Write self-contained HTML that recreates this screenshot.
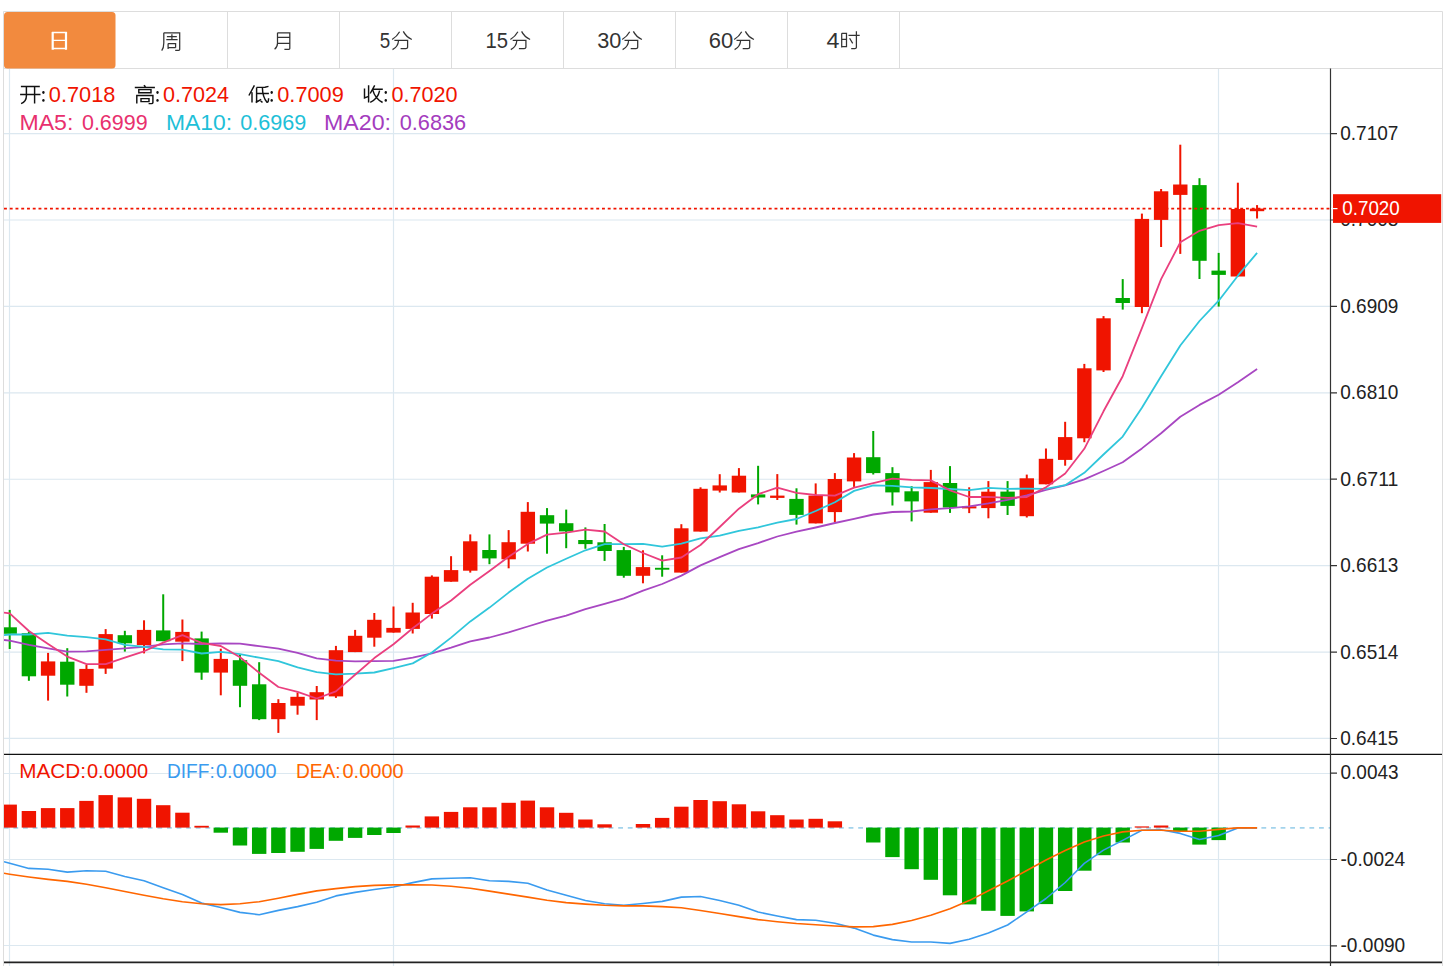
<!DOCTYPE html><html><head><meta charset="utf-8"><style>html,body{margin:0;padding:0;background:#fff;overflow:hidden}svg{display:block}text{font-family:"Liberation Sans",sans-serif}</style></head><body>
<svg width="1450" height="966" viewBox="0 0 1450 966">
<rect x="0" y="0" width="1450" height="966" fill="#fff"/>
<path d="M9.5 68.5V966 M393.5 68.5V966 M1218.5 68.5V966 M4 133.60H1330.5 M4 220.01H1330.5 M4 306.42H1330.5 M4 392.83H1330.5 M4 479.24H1330.5 M4 565.65H1330.5 M4 652.06H1330.5 M4 738.47H1330.5 M4 773.5H1330.5 M4 859.5H1330.5 M4 945.5H1330.5" stroke="#DCE8F0" stroke-width="1.2" fill="none"/>
<path d="M3.5 966V11.5H1442.5V966" stroke="#DDDDDD" stroke-width="1" fill="none"/>
<path d="M3.5 68.5H1442.5" stroke="#DDDDDD" stroke-width="1" fill="none"/>
<path d="M227.5 12V68 M339.5 12V68 M451.5 12V68 M563.5 12V68 M675.5 12V68 M787.5 12V68 M899.5 12V68" stroke="#DDDDDD" stroke-width="1" fill="none"/>
<rect x="4" y="12" width="111.5" height="56.5" rx="3.5" ry="3.5" fill="#F28A3E"/>
<path d="M52.7 32V49.8 M66.0 32V49.8" stroke="#fff" stroke-width="2.2" fill="none"/>
<path d="M52 32.5H66.8 M52.7 40.4H66 M52.7 48.5H66" stroke="#fff" stroke-width="1.4" fill="none"/>
<path transform="translate(161.5,32.4)" d="M2.3 0.4H18.2V17.2Q18.2 18 17.2 18H13.7 M2.3 0.4V10.5Q2.3 15.5 0.2 18.2 M5.4 4.1H15.3 M10.4 1.9V7.1 M4.8 7.1H16.1 M6.6 11.1V16.5 M6.6 11.1H14.1V15.3 M6.6 15.3H14.1" stroke="#333333" stroke-width="1.25" fill="none" stroke-linecap="butt"/>
<path transform="translate(274.4,32.4)" d="M3.1 0.4H15.4V16.2Q15.4 17 14.4 17H10 M3.1 0.4V10.8Q3.1 14.5 0.2 16.8 M3.1 4.9H15.4 M3.1 11H15.4" stroke="#333333" stroke-width="1.25" fill="none" stroke-linecap="butt"/>
<text x="379.75" y="47.55" font-size="22.86" fill="#333" textLength="10.47" lengthAdjust="spacingAndGlyphs">5</text>
<path transform="translate(391.9,31.2)" d="M7.7 0.6Q5.2 5.2 0.2 8.3 M11.4 0.2Q14 5.5 19.9 8.3 M2.5 9.2H15.7V16.1Q15.5 17.3 14 17.3H8.7 M6.6 9.5Q6.2 15.5 0.6 18.4" stroke="#333333" stroke-width="1.25" fill="none" stroke-linecap="butt"/>
<text x="485.50" y="47.55" font-size="22.57" fill="#333" textLength="22.54" lengthAdjust="spacingAndGlyphs">15</text>
<path transform="translate(510.2,31.2)" d="M7.7 0.6Q5.2 5.2 0.2 8.3 M11.4 0.2Q14 5.5 19.9 8.3 M2.5 9.2H15.7V16.1Q15.5 17.3 14 17.3H8.7 M6.6 9.5Q6.2 15.5 0.6 18.4" stroke="#333333" stroke-width="1.25" fill="none" stroke-linecap="butt"/>
<text x="597.25" y="47.55" font-size="22.46" fill="#333" textLength="24.13" lengthAdjust="spacingAndGlyphs">30</text>
<path transform="translate(622.0,31.2)" d="M7.7 0.6Q5.2 5.2 0.2 8.3 M11.4 0.2Q14 5.5 19.9 8.3 M2.5 9.2H15.7V16.1Q15.5 17.3 14 17.3H8.7 M6.6 9.5Q6.2 15.5 0.6 18.4" stroke="#333333" stroke-width="1.25" fill="none" stroke-linecap="butt"/>
<text x="708.75" y="47.55" font-size="22.46" fill="#333" textLength="24.44" lengthAdjust="spacingAndGlyphs">60</text>
<path transform="translate(734.0,31.2)" d="M7.7 0.6Q5.2 5.2 0.2 8.3 M11.4 0.2Q14 5.5 19.9 8.3 M2.5 9.2H15.7V16.1Q15.5 17.3 14 17.3H8.7 M6.6 9.5Q6.2 15.5 0.6 18.4" stroke="#333333" stroke-width="1.25" fill="none" stroke-linecap="butt"/>
<text x="826.50" y="47.70" font-size="22.84" fill="#333" textLength="12.93" lengthAdjust="spacingAndGlyphs">4</text>
<path transform="translate(841.3,31.2)" d="M0.4 2.1H5.2V16.1 M0.4 2.1V16.3 M0.4 8.2H5.2 M0.4 15.3H5.2 M7.2 4.2H18.4 M15.1 0V16.2Q15 17.4 13.5 17.4H9.9 M8.3 7L11.4 12.2" stroke="#333333" stroke-width="1.25" fill="none" stroke-linecap="butt"/>
<path transform="translate(20,85)" d="M0.9 1.4H19.8 M0.1 9.5H20.5 M6.4 1.4V11Q6.4 16.5 1.1 18.6 M14.6 1.4V18.5" stroke="#111111" stroke-width="1.45" fill="none" stroke-linecap="butt"/>
<path transform="translate(134.5,85)" d="M9.4 0.2L11 1.8 M0.3 2.5H20.4 M4.3 4.6H16.5V7.8H4.3Z M2.3 18.5V10.5H18.4V17.6Q18.3 18.6 17 18.6H14.1 M6.5 13.6H14.5V16.6H6.5Z" stroke="#111111" stroke-width="1.45" fill="none" stroke-linecap="butt"/>
<path transform="translate(248.5,85)" d="M5.9 0.4L0.4 10.5 M3.5 7.2V17.6 M8.1 2.4L16.5 2.2L20 1.4 M8.1 2.4V17.3 M8.1 8.5H20.4 M13.9 2.5Q14 12 18.5 17.3Q20 17.5 20.1 13.3 M7.2 17.5L12.7 14.3 M12.1 16L14 17.4" stroke="#111111" stroke-width="1.45" fill="none" stroke-linecap="butt"/>
<path transform="translate(362,85)" d="M2.5 3.4V13L6.6 11.4 M6.6 0.2V17.5 M12.7 0.4L8.2 8.5 M11.1 4.3H20.8 M17.6 5.7Q16 14 8.2 17.3 M10.8 5.1Q13 13.5 20.6 17.5" stroke="#111111" stroke-width="1.45" fill="none" stroke-linecap="butt"/>
<ellipse cx="43.4" cy="92.5" rx="1.2" ry="1.45" fill="#111111"/><ellipse cx="43.4" cy="100.4" rx="1.2" ry="1.45" fill="#111111"/><ellipse cx="157.5" cy="92.5" rx="1.2" ry="1.45" fill="#111111"/><ellipse cx="157.5" cy="100.4" rx="1.2" ry="1.45" fill="#111111"/><ellipse cx="271.7" cy="92.5" rx="1.2" ry="1.45" fill="#111111"/><ellipse cx="271.7" cy="100.4" rx="1.2" ry="1.45" fill="#111111"/><ellipse cx="385.8" cy="92.5" rx="1.2" ry="1.45" fill="#111111"/><ellipse cx="385.8" cy="100.4" rx="1.2" ry="1.45" fill="#111111"/>
<text x="48.80" y="101.65" font-size="22.46" fill="#F01400" textLength="66.54" lengthAdjust="spacingAndGlyphs">0.7018</text>
<text x="163.00" y="101.65" font-size="22.46" fill="#F01400" textLength="66.03" lengthAdjust="spacingAndGlyphs">0.7024</text>
<text x="277.25" y="101.65" font-size="22.46" fill="#F01400" textLength="66.52" lengthAdjust="spacingAndGlyphs">0.7009</text>
<text x="391.50" y="101.65" font-size="22.46" fill="#F01400" textLength="66.12" lengthAdjust="spacingAndGlyphs">0.7020</text>
<text x="19.50" y="130.45" font-size="22.57" fill="#E8306E" textLength="53.86" lengthAdjust="spacingAndGlyphs">MA5:</text>
<text x="82.00" y="130.45" font-size="22.18" fill="#E8306E" textLength="65.56" lengthAdjust="spacingAndGlyphs">0.6999</text>
<text x="166.00" y="130.45" font-size="22.18" fill="#1EC0D8" textLength="66.12" lengthAdjust="spacingAndGlyphs">MA10:</text>
<text x="240.25" y="130.45" font-size="22.18" fill="#1EC0D8" textLength="66.08" lengthAdjust="spacingAndGlyphs">0.6969</text>
<text x="324.00" y="130.45" font-size="22.18" fill="#A43CBE" textLength="67.02" lengthAdjust="spacingAndGlyphs">MA20:</text>
<text x="399.75" y="130.45" font-size="22.18" fill="#A43CBE" textLength="66.44" lengthAdjust="spacingAndGlyphs">0.6836</text>
<defs><clipPath id="cm"><rect x="4" y="69" width="1326.5" height="685"/></clipPath><clipPath id="cd"><rect x="4" y="755" width="1326.5" height="207"/></clipPath></defs>
<g clip-path="url(#cm)">
<rect x="8.70" y="609.9" width="2" height="39.1" fill="#00A800"/>
<rect x="2.50" y="627.3" width="14.4" height="6.5" fill="#00A800"/>
<rect x="27.89" y="631.6" width="2" height="49.2" fill="#00A800"/>
<rect x="21.69" y="633.2" width="14.4" height="43.1" fill="#00A800"/>
<rect x="47.08" y="652.9" width="2" height="47.7" fill="#F01400"/>
<rect x="40.88" y="661.4" width="14.4" height="14.3" fill="#F01400"/>
<rect x="66.27" y="648.2" width="2" height="48.3" fill="#00A800"/>
<rect x="60.07" y="661.7" width="14.4" height="23.0" fill="#00A800"/>
<rect x="85.46" y="665.0" width="2" height="27.8" fill="#F01400"/>
<rect x="79.26" y="668.9" width="14.4" height="16.9" fill="#F01400"/>
<rect x="104.65" y="629.1" width="2" height="44.8" fill="#F01400"/>
<rect x="98.45" y="634.1" width="14.4" height="34.5" fill="#F01400"/>
<rect x="123.84" y="630.8" width="2" height="20.8" fill="#00A800"/>
<rect x="117.64" y="635.2" width="14.4" height="8.1" fill="#00A800"/>
<rect x="143.03" y="620.3" width="2" height="33.1" fill="#F01400"/>
<rect x="136.83" y="629.9" width="14.4" height="15.2" fill="#F01400"/>
<rect x="162.22" y="594.3" width="2" height="46.9" fill="#00A800"/>
<rect x="156.02" y="630.4" width="14.4" height="10.8" fill="#00A800"/>
<rect x="181.41" y="619.5" width="2" height="41.6" fill="#F01400"/>
<rect x="175.21" y="631.9" width="14.4" height="9.8" fill="#F01400"/>
<rect x="200.60" y="631.6" width="2" height="48.2" fill="#00A800"/>
<rect x="194.40" y="638.4" width="14.4" height="34.2" fill="#00A800"/>
<rect x="219.79" y="648.7" width="2" height="46.6" fill="#F01400"/>
<rect x="213.59" y="658.9" width="14.4" height="13.7" fill="#F01400"/>
<rect x="238.98" y="654.4" width="2" height="52.8" fill="#00A800"/>
<rect x="232.78" y="660.2" width="14.4" height="25.6" fill="#00A800"/>
<rect x="258.17" y="662.2" width="2" height="57.9" fill="#00A800"/>
<rect x="251.97" y="684.3" width="14.4" height="34.9" fill="#00A800"/>
<rect x="277.36" y="699.2" width="2" height="33.7" fill="#F01400"/>
<rect x="271.16" y="703.0" width="14.4" height="16.2" fill="#F01400"/>
<rect x="296.55" y="692.5" width="2" height="22.2" fill="#F01400"/>
<rect x="290.35" y="696.8" width="14.4" height="8.9" fill="#F01400"/>
<rect x="315.74" y="686.0" width="2" height="34.1" fill="#F01400"/>
<rect x="309.54" y="692.2" width="14.4" height="7.3" fill="#F01400"/>
<rect x="334.93" y="645.9" width="2" height="52.0" fill="#F01400"/>
<rect x="328.73" y="650.2" width="14.4" height="46.2" fill="#F01400"/>
<rect x="354.12" y="629.9" width="2" height="22.2" fill="#F01400"/>
<rect x="347.92" y="635.8" width="14.4" height="16.3" fill="#F01400"/>
<rect x="373.31" y="613.0" width="2" height="33.7" fill="#F01400"/>
<rect x="367.11" y="619.8" width="14.4" height="17.9" fill="#F01400"/>
<rect x="392.50" y="606.5" width="2" height="26.1" fill="#F01400"/>
<rect x="386.30" y="627.9" width="14.4" height="4.7" fill="#F01400"/>
<rect x="411.69" y="602.8" width="2" height="30.7" fill="#F01400"/>
<rect x="405.49" y="612.5" width="14.4" height="16.4" fill="#F01400"/>
<rect x="430.88" y="575.4" width="2" height="43.2" fill="#F01400"/>
<rect x="424.68" y="576.7" width="14.4" height="37.3" fill="#F01400"/>
<rect x="450.07" y="556.2" width="2" height="25.5" fill="#F01400"/>
<rect x="443.87" y="570.1" width="14.4" height="11.6" fill="#F01400"/>
<rect x="469.26" y="534.4" width="2" height="38.2" fill="#F01400"/>
<rect x="463.06" y="541.3" width="14.4" height="29.4" fill="#F01400"/>
<rect x="488.45" y="534.4" width="2" height="29.8" fill="#00A800"/>
<rect x="482.25" y="550.0" width="14.4" height="8.4" fill="#00A800"/>
<rect x="507.64" y="530.1" width="2" height="38.2" fill="#F01400"/>
<rect x="501.44" y="542.2" width="14.4" height="17.1" fill="#F01400"/>
<rect x="526.83" y="502.1" width="2" height="49.4" fill="#F01400"/>
<rect x="520.63" y="511.8" width="14.4" height="31.9" fill="#F01400"/>
<rect x="546.02" y="508.1" width="2" height="45.6" fill="#00A800"/>
<rect x="539.82" y="515.2" width="14.4" height="8.4" fill="#00A800"/>
<rect x="565.21" y="509.6" width="2" height="38.6" fill="#00A800"/>
<rect x="559.01" y="523.2" width="14.4" height="8.2" fill="#00A800"/>
<rect x="584.40" y="527.4" width="2" height="21.4" fill="#00A800"/>
<rect x="578.20" y="540.0" width="14.4" height="4.1" fill="#00A800"/>
<rect x="603.59" y="524.0" width="2" height="36.9" fill="#00A800"/>
<rect x="597.39" y="542.3" width="14.4" height="8.7" fill="#00A800"/>
<rect x="622.78" y="546.9" width="2" height="30.8" fill="#00A800"/>
<rect x="616.58" y="550.1" width="14.4" height="25.7" fill="#00A800"/>
<rect x="641.97" y="550.3" width="2" height="33.0" fill="#F01400"/>
<rect x="635.77" y="567.1" width="14.4" height="8.7" fill="#F01400"/>
<rect x="661.16" y="555.3" width="2" height="21.4" fill="#00A800"/>
<rect x="654.96" y="567.8" width="14.4" height="1.9" fill="#00A800"/>
<rect x="680.35" y="524.2" width="2" height="48.4" fill="#F01400"/>
<rect x="674.15" y="528.3" width="14.4" height="44.3" fill="#F01400"/>
<rect x="699.54" y="487.3" width="2" height="44.3" fill="#F01400"/>
<rect x="693.34" y="488.8" width="14.4" height="42.8" fill="#F01400"/>
<rect x="718.73" y="474.2" width="2" height="18.3" fill="#F01400"/>
<rect x="712.53" y="485.4" width="14.4" height="5.2" fill="#F01400"/>
<rect x="737.92" y="468.1" width="2" height="24.4" fill="#F01400"/>
<rect x="731.72" y="475.7" width="14.4" height="16.8" fill="#F01400"/>
<rect x="757.11" y="465.8" width="2" height="38.6" fill="#00A800"/>
<rect x="750.91" y="494.4" width="14.4" height="3.1" fill="#00A800"/>
<rect x="776.30" y="474.1" width="2" height="25.9" fill="#F01400"/>
<rect x="770.10" y="495.6" width="14.4" height="2.3" fill="#F01400"/>
<rect x="795.49" y="488.3" width="2" height="36.3" fill="#00A800"/>
<rect x="789.29" y="498.9" width="14.4" height="16.0" fill="#00A800"/>
<rect x="814.68" y="483.4" width="2" height="40.0" fill="#F01400"/>
<rect x="808.48" y="495.6" width="14.4" height="27.8" fill="#F01400"/>
<rect x="833.87" y="473.1" width="2" height="49.0" fill="#F01400"/>
<rect x="827.67" y="479.0" width="14.4" height="33.1" fill="#F01400"/>
<rect x="853.06" y="453.1" width="2" height="33.8" fill="#F01400"/>
<rect x="846.86" y="457.5" width="14.4" height="23.9" fill="#F01400"/>
<rect x="872.25" y="431.0" width="2" height="43.5" fill="#00A800"/>
<rect x="866.05" y="457.2" width="14.4" height="15.9" fill="#00A800"/>
<rect x="891.44" y="467.2" width="2" height="38.3" fill="#00A800"/>
<rect x="885.24" y="473.1" width="14.4" height="19.3" fill="#00A800"/>
<rect x="910.63" y="486.2" width="2" height="35.2" fill="#00A800"/>
<rect x="904.43" y="491.3" width="14.4" height="10.1" fill="#00A800"/>
<rect x="929.82" y="469.9" width="2" height="42.8" fill="#F01400"/>
<rect x="923.62" y="482.1" width="14.4" height="30.6" fill="#F01400"/>
<rect x="949.01" y="466.1" width="2" height="46.8" fill="#00A800"/>
<rect x="942.81" y="483.0" width="14.4" height="24.5" fill="#00A800"/>
<rect x="968.20" y="487.3" width="2" height="25.8" fill="#F01400"/>
<rect x="962.00" y="506.3" width="14.4" height="2.1" fill="#F01400"/>
<rect x="987.39" y="481.1" width="2" height="37.2" fill="#F01400"/>
<rect x="981.19" y="491.7" width="14.4" height="16.4" fill="#F01400"/>
<rect x="1006.58" y="481.1" width="2" height="33.9" fill="#00A800"/>
<rect x="1000.38" y="491.6" width="14.4" height="14.3" fill="#00A800"/>
<rect x="1025.77" y="474.6" width="2" height="42.9" fill="#F01400"/>
<rect x="1019.57" y="478.3" width="14.4" height="37.9" fill="#F01400"/>
<rect x="1044.96" y="448.5" width="2" height="35.8" fill="#F01400"/>
<rect x="1038.76" y="458.8" width="14.4" height="25.5" fill="#F01400"/>
<rect x="1064.15" y="421.8" width="2" height="43.9" fill="#F01400"/>
<rect x="1057.95" y="437.1" width="14.4" height="22.8" fill="#F01400"/>
<rect x="1083.34" y="363.9" width="2" height="78.3" fill="#F01400"/>
<rect x="1077.14" y="368.3" width="14.4" height="70.0" fill="#F01400"/>
<rect x="1102.53" y="316.1" width="2" height="55.9" fill="#F01400"/>
<rect x="1096.33" y="318.3" width="14.4" height="52.1" fill="#F01400"/>
<rect x="1121.72" y="279.1" width="2" height="30.5" fill="#00A800"/>
<rect x="1115.52" y="298.0" width="14.4" height="5.0" fill="#00A800"/>
<rect x="1140.91" y="213.6" width="2" height="99.6" fill="#F01400"/>
<rect x="1134.71" y="218.9" width="14.4" height="88.1" fill="#F01400"/>
<rect x="1160.10" y="189.0" width="2" height="58.0" fill="#F01400"/>
<rect x="1153.90" y="191.3" width="14.4" height="28.6" fill="#F01400"/>
<rect x="1179.29" y="144.7" width="2" height="109.2" fill="#F01400"/>
<rect x="1173.09" y="184.5" width="14.4" height="10.4" fill="#F01400"/>
<rect x="1198.48" y="178.2" width="2" height="100.8" fill="#00A800"/>
<rect x="1192.28" y="185.1" width="14.4" height="75.7" fill="#00A800"/>
<rect x="1217.67" y="252.9" width="2" height="53.7" fill="#00A800"/>
<rect x="1211.47" y="270.6" width="14.4" height="4.3" fill="#00A800"/>
<rect x="1236.86" y="182.7" width="2" height="93.8" fill="#F01400"/>
<rect x="1230.66" y="209.0" width="14.4" height="67.5" fill="#F01400"/>
<rect x="1256.05" y="205.1" width="2" height="13.4" fill="#F01400"/>
<rect x="1249.85" y="208.6" width="14.4" height="2.6" fill="#F01400"/>
<path d="M4.0 640.0 L9.7 640.7 L28.9 644.8 L48.1 648.3 L67.3 651.7 L86.5 651.3 L105.7 649.9 L124.8 648.3 L144.0 646.9 L163.2 644.4 L182.4 643.4 L201.6 644.0 L220.8 643.3 L240.0 643.6 L259.2 646.2 L278.4 648.7 L297.6 652.9 L316.7 658.3 L335.9 660.7 L355.1 661.4 L374.3 661.1 L393.5 660.8 L412.7 657.6 L431.9 653.4 L451.1 647.6 L470.3 641.3 L489.5 637.5 L508.6 632.4 L527.8 626.5 L547.0 620.6 L566.2 615.6 L585.4 609.2 L604.6 603.8 L623.8 598.3 L643.0 590.7 L662.2 584.0 L681.4 575.6 L700.5 565.4 L719.7 557.2 L738.9 549.2 L758.1 543.1 L777.3 536.5 L796.5 531.6 L815.7 527.5 L834.9 523.0 L854.1 518.8 L873.3 514.5 L892.4 512.0 L911.6 511.5 L930.8 509.4 L950.0 508.2 L969.2 506.3 L988.4 503.4 L1007.6 499.9 L1026.8 495.4 L1046.0 489.9 L1065.2 485.3 L1084.3 479.3 L1103.5 471.0 L1122.7 462.3 L1141.9 448.4 L1161.1 433.2 L1180.3 416.7 L1199.5 404.9 L1218.7 394.7 L1237.9 382.3 L1257.1 369.1" stroke="#A847C2" stroke-width="1.8" fill="none" stroke-linejoin="round"/>
<path d="M4.0 635.2 L9.7 634.5 L28.9 634.5 L48.1 632.8 L67.3 635.6 L86.5 637.2 L105.7 639.3 L124.8 644.8 L144.0 646.9 L163.2 649.4 L182.4 649.6 L201.6 653.5 L220.8 651.8 L240.0 654.2 L259.2 657.7 L278.4 661.1 L297.6 667.4 L316.7 672.2 L335.9 674.3 L355.1 673.7 L374.3 672.5 L393.5 668.1 L412.7 663.4 L431.9 652.5 L451.1 637.6 L470.3 621.4 L489.5 607.6 L508.6 592.6 L527.8 578.8 L547.0 567.5 L566.2 558.7 L585.4 550.3 L604.6 544.2 L623.8 544.1 L643.0 543.8 L662.2 546.6 L681.4 543.6 L700.5 538.3 L719.7 535.6 L738.9 530.8 L758.1 527.4 L777.3 522.6 L796.5 519.0 L815.7 511.0 L834.9 502.2 L854.1 490.9 L873.3 485.4 L892.4 485.8 L911.6 487.4 L930.8 488.0 L950.0 489.0 L969.2 490.1 L988.4 487.8 L1007.6 488.8 L1026.8 488.7 L1046.0 488.9 L1065.2 485.2 L1084.3 472.8 L1103.5 454.5 L1122.7 436.6 L1141.9 407.8 L1161.1 376.3 L1180.3 345.5 L1199.5 321.0 L1218.7 300.7 L1237.9 275.7 L1257.1 252.9" stroke="#30C6DB" stroke-width="1.8" fill="none" stroke-linejoin="round"/>
<path d="M4.0 612.7 L9.7 613.4 L28.9 631.0 L48.1 644.1 L67.3 656.6 L86.5 664.1 L105.7 664.2 L124.8 657.6 L144.0 651.3 L163.2 642.6 L182.4 635.2 L201.6 642.9 L220.8 646.0 L240.0 657.2 L259.2 672.8 L278.4 687.0 L297.6 691.8 L316.7 698.5 L335.9 691.4 L355.1 674.7 L374.3 658.1 L393.5 644.3 L412.7 628.3 L431.9 613.6 L451.1 600.5 L470.3 584.8 L489.5 570.9 L508.6 556.8 L527.8 543.9 L547.0 534.6 L566.2 532.6 L585.4 529.7 L604.6 531.5 L623.8 544.3 L643.0 553.0 L662.2 560.6 L681.4 557.5 L700.5 545.0 L719.7 527.0 L738.9 508.7 L758.1 494.2 L777.3 487.7 L796.5 492.9 L815.7 495.0 L834.9 495.6 L854.1 487.6 L873.3 483.1 L892.4 478.6 L911.6 479.8 L930.8 480.4 L950.0 490.4 L969.2 497.0 L988.4 496.9 L1007.6 497.8 L1026.8 497.0 L1046.0 487.3 L1065.2 473.5 L1084.3 448.8 L1103.5 411.3 L1122.7 376.2 L1141.9 328.2 L1161.1 279.1 L1180.3 242.3 L1199.5 230.8 L1218.7 225.2 L1237.9 223.2 L1257.1 226.7" stroke="#EA3F7E" stroke-width="1.8" fill="none" stroke-linejoin="round"/>
</g>
<path d="M4 208.6H1330.5" stroke="#F01400" stroke-width="1.6" stroke-dasharray="2.9 2.85" fill="none"/>
<g clip-path="url(#cd)">
<path d="M3.8 827.9H1330.5" stroke="#A3D3EC" stroke-width="1.6" stroke-dasharray="4.8 4.8" fill="none"/>
<rect x="2.50" y="804.6" width="14.4" height="23.0" fill="#F01400"/>
<rect x="21.69" y="811.0" width="14.4" height="16.6" fill="#F01400"/>
<rect x="40.88" y="808.1" width="14.4" height="19.5" fill="#F01400"/>
<rect x="60.07" y="808.1" width="14.4" height="19.5" fill="#F01400"/>
<rect x="79.26" y="800.9" width="14.4" height="26.7" fill="#F01400"/>
<rect x="98.45" y="795.1" width="14.4" height="32.5" fill="#F01400"/>
<rect x="117.64" y="797.4" width="14.4" height="30.2" fill="#F01400"/>
<rect x="136.83" y="798.8" width="14.4" height="28.8" fill="#F01400"/>
<rect x="156.02" y="805.2" width="14.4" height="22.4" fill="#F01400"/>
<rect x="175.21" y="812.7" width="14.4" height="14.9" fill="#F01400"/>
<rect x="194.40" y="825.8" width="14.4" height="1.8" fill="#F01400"/>
<rect x="213.59" y="827.6" width="14.4" height="5.1" fill="#00A800"/>
<rect x="232.78" y="827.6" width="14.4" height="17.9" fill="#00A800"/>
<rect x="251.97" y="827.6" width="14.4" height="26.3" fill="#00A800"/>
<rect x="271.16" y="827.6" width="14.4" height="25.4" fill="#00A800"/>
<rect x="290.35" y="827.6" width="14.4" height="24.2" fill="#00A800"/>
<rect x="309.54" y="827.6" width="14.4" height="21.3" fill="#00A800"/>
<rect x="328.73" y="827.6" width="14.4" height="13.2" fill="#00A800"/>
<rect x="347.92" y="827.6" width="14.4" height="10.3" fill="#00A800"/>
<rect x="367.11" y="827.6" width="14.4" height="7.4" fill="#00A800"/>
<rect x="386.30" y="827.6" width="14.4" height="5.4" fill="#00A800"/>
<rect x="405.49" y="825.5" width="14.4" height="2.1" fill="#F01400"/>
<rect x="424.68" y="816.4" width="14.4" height="11.2" fill="#F01400"/>
<rect x="443.87" y="811.9" width="14.4" height="15.7" fill="#F01400"/>
<rect x="463.06" y="807.3" width="14.4" height="20.3" fill="#F01400"/>
<rect x="482.25" y="807.3" width="14.4" height="20.3" fill="#F01400"/>
<rect x="501.44" y="802.8" width="14.4" height="24.8" fill="#F01400"/>
<rect x="520.63" y="800.6" width="14.4" height="27.0" fill="#F01400"/>
<rect x="539.82" y="807.3" width="14.4" height="20.3" fill="#F01400"/>
<rect x="559.01" y="812.8" width="14.4" height="14.8" fill="#F01400"/>
<rect x="578.20" y="819.5" width="14.4" height="8.1" fill="#F01400"/>
<rect x="597.39" y="824.3" width="14.4" height="3.3" fill="#F01400"/>
<rect x="635.77" y="824.0" width="14.4" height="3.6" fill="#F01400"/>
<rect x="654.96" y="817.9" width="14.4" height="9.7" fill="#F01400"/>
<rect x="674.15" y="806.7" width="14.4" height="20.9" fill="#F01400"/>
<rect x="693.34" y="800.0" width="14.4" height="27.6" fill="#F01400"/>
<rect x="712.53" y="801.2" width="14.4" height="26.4" fill="#F01400"/>
<rect x="731.72" y="804.3" width="14.4" height="23.3" fill="#F01400"/>
<rect x="750.91" y="811.3" width="14.4" height="16.3" fill="#F01400"/>
<rect x="770.10" y="815.2" width="14.4" height="12.4" fill="#F01400"/>
<rect x="789.29" y="819.5" width="14.4" height="8.1" fill="#F01400"/>
<rect x="808.48" y="818.8" width="14.4" height="8.8" fill="#F01400"/>
<rect x="827.67" y="821.3" width="14.4" height="6.3" fill="#F01400"/>
<rect x="866.05" y="827.6" width="14.4" height="14.9" fill="#00A800"/>
<rect x="885.24" y="827.6" width="14.4" height="29.5" fill="#00A800"/>
<rect x="904.43" y="827.6" width="14.4" height="41.6" fill="#00A800"/>
<rect x="923.62" y="827.6" width="14.4" height="52.2" fill="#00A800"/>
<rect x="942.81" y="827.6" width="14.4" height="67.7" fill="#00A800"/>
<rect x="962.00" y="827.6" width="14.4" height="76.8" fill="#00A800"/>
<rect x="981.19" y="827.6" width="14.4" height="83.2" fill="#00A800"/>
<rect x="1000.38" y="827.6" width="14.4" height="88.3" fill="#00A800"/>
<rect x="1019.57" y="827.6" width="14.4" height="83.8" fill="#00A800"/>
<rect x="1038.76" y="827.6" width="14.4" height="76.5" fill="#00A800"/>
<rect x="1057.95" y="827.6" width="14.4" height="63.4" fill="#00A800"/>
<rect x="1077.14" y="827.6" width="14.4" height="43.1" fill="#00A800"/>
<rect x="1096.33" y="827.6" width="14.4" height="27.6" fill="#00A800"/>
<rect x="1115.52" y="827.6" width="14.4" height="14.9" fill="#00A800"/>
<rect x="1134.71" y="826.4" width="14.4" height="1.2" fill="#F01400"/>
<rect x="1153.90" y="825.5" width="14.4" height="2.1" fill="#F01400"/>
<rect x="1173.09" y="827.6" width="14.4" height="3.7" fill="#00A800"/>
<rect x="1192.28" y="827.6" width="14.4" height="17.0" fill="#00A800"/>
<rect x="1211.47" y="827.6" width="14.4" height="12.5" fill="#00A800"/>
<path d="M4.0 861.7 L9.7 863.3 L28.9 868.4 L48.1 869.2 L67.3 872.1 L86.5 870.7 L105.7 871.3 L124.8 876.5 L144.0 880.8 L163.2 887.8 L182.4 894.4 L201.6 903.1 L220.8 907.5 L240.0 912.4 L259.2 914.7 L278.4 910.4 L297.6 906.6 L316.7 902.2 L335.9 895.9 L355.1 892.4 L374.3 889.5 L393.5 887.0 L412.7 882.6 L431.9 878.9 L451.1 878.3 L470.3 877.7 L489.5 880.8 L508.6 881.4 L527.8 883.2 L547.0 889.9 L566.2 895.3 L585.4 900.5 L604.6 903.8 L623.8 905.3 L643.0 903.5 L662.2 901.4 L681.4 897.1 L700.5 896.5 L719.7 900.5 L738.9 905.3 L758.1 912.0 L777.3 916.0 L796.5 919.6 L815.7 920.2 L834.9 923.3 L854.1 928.1 L873.3 935.1 L892.4 939.6 L911.6 942.0 L930.8 942.0 L950.0 943.4 L969.2 939.3 L988.4 933.0 L1007.6 925.0 L1026.8 911.8 L1046.0 898.5 L1065.2 882.5 L1084.3 863.4 L1103.5 850.1 L1122.7 840.4 L1141.9 830.3 L1161.1 829.7 L1180.3 833.4 L1199.5 839.5 L1218.7 835.5 L1237.9 827.9 L1257.1 827.9" stroke="#3A9BEF" stroke-width="1.6" fill="none" stroke-linejoin="round"/>
<path d="M4.0 873.3 L9.7 874.2 L28.9 877.0 L48.1 879.4 L67.3 881.4 L86.5 884.3 L105.7 887.8 L124.8 891.5 L144.0 895.3 L163.2 898.8 L182.4 901.7 L201.6 903.7 L220.8 904.6 L240.0 903.7 L259.2 901.7 L278.4 898.2 L297.6 894.4 L316.7 890.9 L335.9 888.6 L355.1 886.6 L374.3 885.4 L393.5 884.9 L412.7 884.7 L431.9 885.0 L451.1 886.2 L470.3 888.3 L489.5 891.1 L508.6 894.1 L527.8 897.1 L547.0 900.2 L566.2 902.6 L585.4 904.1 L604.6 905.3 L623.8 905.9 L643.0 905.9 L662.2 906.6 L681.4 907.8 L700.5 910.5 L719.7 913.5 L738.9 916.6 L758.1 919.6 L777.3 921.7 L796.5 923.5 L815.7 924.8 L834.9 926.0 L854.1 926.9 L873.3 926.6 L892.4 924.4 L911.6 920.5 L930.8 915.3 L950.0 908.7 L969.2 900.6 L988.4 890.8 L1007.6 881.0 L1026.8 870.5 L1046.0 860.0 L1065.2 850.5 L1084.3 842.0 L1103.5 836.0 L1122.7 831.9 L1141.9 830.3 L1161.1 830.3 L1180.3 831.3 L1199.5 831.3 L1218.7 829.4 L1237.9 827.9 L1257.1 827.9" stroke="#FF6600" stroke-width="1.6" fill="none" stroke-linejoin="round"/>
</g>
<text x="19.25" y="777.55" font-size="19.37" fill="#F01400" textLength="66.78" lengthAdjust="spacingAndGlyphs">MACD:</text>
<text x="87.00" y="777.55" font-size="19.37" fill="#F01400" textLength="61.12" lengthAdjust="spacingAndGlyphs">0.0000</text>
<text x="167.00" y="777.80" font-size="20.07" fill="#3A9BEF" textLength="47.69" lengthAdjust="spacingAndGlyphs">DIFF:</text>
<text x="216.00" y="777.55" font-size="19.37" fill="#3A9BEF" textLength="60.65" lengthAdjust="spacingAndGlyphs">0.0000</text>
<text x="296.00" y="777.80" font-size="20.07" fill="#FF6600" textLength="44.66" lengthAdjust="spacingAndGlyphs">DEA:</text>
<text x="342.50" y="777.55" font-size="19.37" fill="#FF6600" textLength="61.12" lengthAdjust="spacingAndGlyphs">0.0000</text>
<path d="M4 754.4H1442" stroke="#111" stroke-width="1.2" fill="none"/>
<path d="M4 962.4H1442" stroke="#222" stroke-width="1.6" fill="none"/>
<path d="M1330.5 68.5V966" stroke="#333" stroke-width="1.2" fill="none"/>
<path d="M1330.5 133.6H1337 M1330.5 220.0H1337 M1330.5 306.4H1337 M1330.5 392.8H1337 M1330.5 479.2H1337 M1330.5 565.6H1337 M1330.5 652.1H1337 M1330.5 738.5H1337 M1330.5 773.2H1337 M1330.5 859.5H1337 M1330.5 945.8H1337" stroke="#333" stroke-width="1.2" fill="none"/>
<text x="1340.25" y="140.05" font-size="19.79" fill="#222" textLength="58.15" lengthAdjust="spacingAndGlyphs">0.7107</text>
<text x="1340.25" y="226.46" font-size="19.79" fill="#222" textLength="58.15" lengthAdjust="spacingAndGlyphs">0.7008</text>
<text x="1340.25" y="312.87" font-size="19.79" fill="#222" textLength="58.15" lengthAdjust="spacingAndGlyphs">0.6909</text>
<text x="1340.25" y="399.28" font-size="19.79" fill="#222" textLength="58.15" lengthAdjust="spacingAndGlyphs">0.6810</text>
<text x="1340.25" y="485.69" font-size="19.79" fill="#222" textLength="58.15" lengthAdjust="spacingAndGlyphs">0.6711</text>
<text x="1340.25" y="572.10" font-size="19.79" fill="#222" textLength="58.15" lengthAdjust="spacingAndGlyphs">0.6613</text>
<text x="1340.25" y="658.51" font-size="19.79" fill="#222" textLength="58.15" lengthAdjust="spacingAndGlyphs">0.6514</text>
<text x="1340.25" y="744.92" font-size="19.79" fill="#222" textLength="58.15" lengthAdjust="spacingAndGlyphs">0.6415</text>
<text x="1340.50" y="779.35" font-size="19.79" fill="#222" textLength="58.05" lengthAdjust="spacingAndGlyphs">0.0043</text>
<text x="1340.50" y="865.65" font-size="19.79" fill="#222" textLength="64.74" lengthAdjust="spacingAndGlyphs">-0.0024</text>
<text x="1340.50" y="951.95" font-size="19.79" fill="#222" textLength="64.74" lengthAdjust="spacingAndGlyphs">-0.0090</text>
<rect x="1333" y="194.2" width="108.2" height="28.7" fill="#F01400"/>
<path d="M1331 208.6H1337.5" stroke="#fff" stroke-width="1.2"/>
<text x="1342.25" y="215.25" font-size="19.65" fill="#fff" textLength="57.51" lengthAdjust="spacingAndGlyphs">0.7020</text>
</svg></body></html>
